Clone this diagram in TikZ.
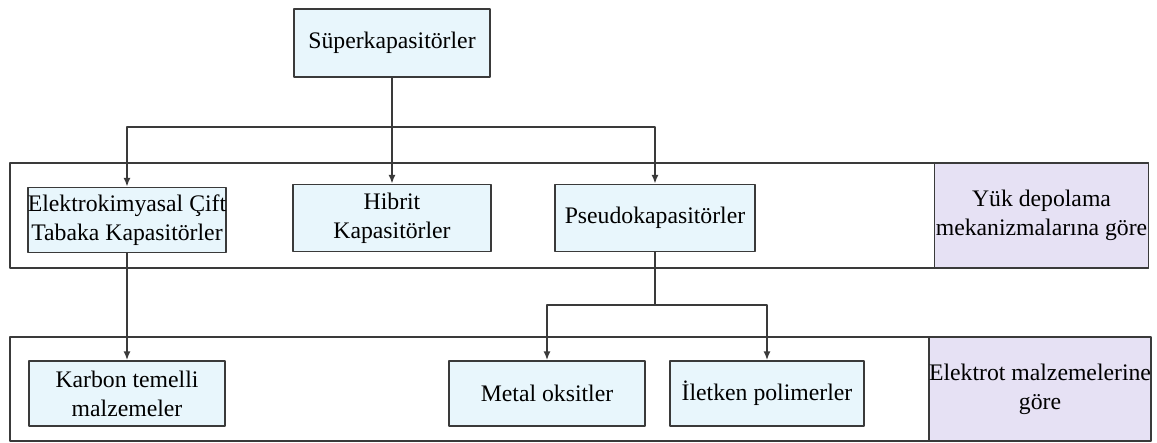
\documentclass[tikz,border=0pt]{standalone}
\usepackage{fontspec}
\setmainfont{LiberationSerif}[Extension=.ttf, UprightFont=*-Regular, BoldFont=*-Bold]
\usetikzlibrary{arrows.meta}
\definecolor{boxblue}{HTML}{E8F6FC}
\definecolor{boxlilac}{HTML}{E6E1F4}
\definecolor{edge}{HTML}{3A3A3A}
\begin{document}
\begin{tikzpicture}[x=0.02cm, y=-0.02cm, line join=round, font=\fontsize{13.5}{16.5}\selectfont, >={Latex[length=5pt,width=4pt]},
	kutu/.style={draw=edge, line width=0.9pt, fill=boxblue, inner sep=0pt, align=center, minimum width=3.92cm, minimum height=1.3cm},
	etiket/.style={draw=edge, line width=0.9pt, fill=boxlilac, inner sep=0pt, align=center, minimum width=4.28cm, minimum height=2.1cm},
	bag/.style={draw=edge, line width=1pt}]
				\useasboundingbox (0,0) rectangle (1157,443);
				\draw[bag] (10,163) rectangle (1148,268);
				\draw[bag] (10,337) rectangle (1148,441);
				\node[kutu, minimum height=1.36cm] (sup) at (392,43) {Süperkapasitörler};
				\node[kutu, minimum width=3.9cm] (ecs) at (127,220) {Elektrokimyasal Çift\\Tabaka Kapasitörler};
				\node[kutu, minimum width=3.96cm, minimum height=1.34cm] (hib) at (392,218) {Hibrit\\Kapasitörler};
				\node[kutu, minimum width=4cm, minimum height=1.34cm] (pseudo) at (655,218) {Pseudokapasitörler};
				\node[etiket] (mek) at (1041.5,215.5) {Yük depolama\\mekanizmalarına göre};
				\node[kutu] (karbon) at (127,393.5) {Karbon temelli\\malzemeler};
				\node[kutu] (metal) at (547,393.5) {Metal oksitler};
				\node[kutu, minimum width=3.88cm] (iletken) at (767,393.5) {İletken polimerler};
				\node[etiket, minimum width=4.32cm, minimum height=2.08cm] (elek) at (1040,389) {Elektrot malzemelerine\\göre};
				\coordinate (j1) at (392,127);
				\coordinate (j2) at (655,305);
				\draw[bag] (sup) -- (j1);
				\draw[bag, ->] (j1) -| (ecs);
				\draw[bag, ->] (j1) -- (hib);
				\draw[bag, ->] (j1) -| (pseudo);
				\draw[bag, ->] (ecs) -- (karbon);
				\draw[bag] (pseudo) -- (j2);
				\draw[bag, ->] (j2) -| (metal);
				\draw[bag, ->] (j2) -| (iletken);
			\end{tikzpicture}
\end{document}
